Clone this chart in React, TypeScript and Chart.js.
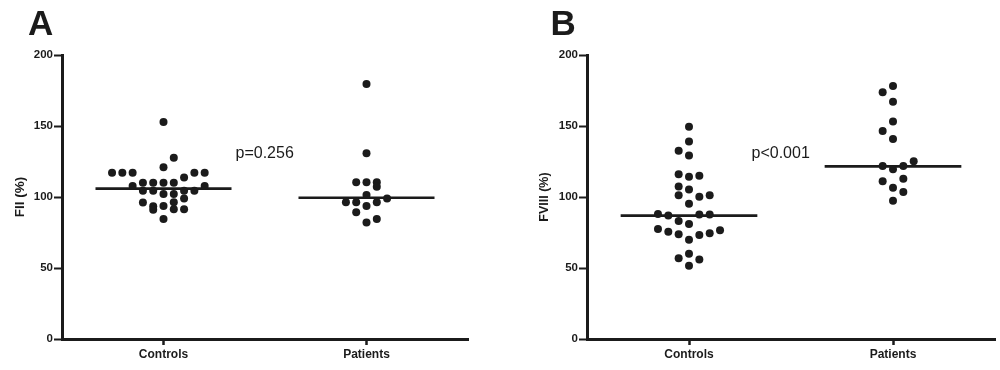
import React, { useEffect, useRef } from "react";
import { Chart, registerables } from "chart.js";

Chart.register(...registerables);

// ---------- data ----------
const categories = ["Controls", "Patients"];
const yTicks = [0, 50, 100, 150, 200];

// Panel A: FII (%)
const fiiControls = [
  152.8, 127.7, 120.9, 117, 117, 117, 117, 117, 113.8, 110.1, 110.1, 110.1, 110.1,
  107.7, 107.7, 104.4, 104.4, 104.4, 104.4, 102.1, 102.1, 99, 96.2, 96.3, 93.5, 91,
  93.7, 91.3, 91.3, 84.5,
];
const fiiControlsSlot = [
  0, 1, 0, -5, -4, -3, 3, 4, 2, -2, -1, 0, 1,
  -3, 4, -2, -1, 2, 3, 0, 1, 2, -2, 1, -1, -1,
  0, 1, 2, 0,
];
const fiiPatients = [179.6, 130.8, 110.3, 110.3, 110.3, 107.3, 101.4, 99, 96.3, 96.3, 96.3, 93.7, 89.2, 84.5, 82];
const fiiPatientsSlot = [0, 0, -1, 0, 1, 1, 0, 2, -2, -1, 1, 0, -1, 1, 0];
const fiiMedians = [105.9, 99.5];

// Panel B: FVIII (%)
const fviiiControls = [
  149.5, 139, 132.6, 129.3, 116, 114.3, 115, 107.4, 105.2, 101.2, 100.2, 101.2, 95.3,
  88, 86.9, 87.6, 87.6, 83.1, 81, 77.5, 75.6, 73.7, 69.9, 73.2, 74.4, 76.5, 56.8,
  60.1, 55.9, 51.6,
];
const fviiiControlsSlot = [
  0, 0, -1, 0, -1, 0, 1, -1, 0, -1, 1, 2, 0,
  -3, -2, 1, 2, -1, 0, -3, -2, -1, 0, 1, 2, 3, -1,
  0, 1, 0,
];
const fviiiPatients = [178.2, 173.7, 167.1, 153.2, 146.5, 140.8, 121.8, 119.5, 121.8, 125.1, 112.9, 111.1, 106.6, 103.5, 97.4];
const fviiiPatientsSlot = [0, -1, 0, 0, -1, 0, -1, 0, 1, 2, 1, -1, 0, 1, 0];
const fviiiMedians = [86.9, 121.6];

const pValues = ["p=0.256", "p<0.001"];
const yTitles = ["FII (%)", "FVIII (%)"];
const panelLetters = ["A", "B"];

// ---------- styling ----------
const FONT = '"Liberation Sans", Arial, Helvetica, sans-serif';
const INK = "#1b1b1b";
const SLOT = 0.0507;
const HALF_LINE = 0.335;

type PanelCfg = {
  left: number;
  yWidth: number;
  padRight: number;
  titlePad: number;
  titleSize: number;
  title: string;
  controls: number[];
  controlsSlot: number[];
  patients: number[];
  patientsSlot: number[];
  medians: number[];
};

function toPoints(vals: number[], slots: number[], cat: number) {
  return vals.map((v, i) => ({ x: cat + slots[i] * SLOT, y: v }));
}

function Panel({ cfg }: { cfg: PanelCfg }) {
  const ref = useRef<HTMLCanvasElement | null>(null);
  useEffect(() => {
    if (!ref.current) return;
    const dot = {
      showLine: false,
      pointRadius: 4,
      pointHoverRadius: 4,
      pointBackgroundColor: INK,
      pointBorderWidth: 0,
      borderColor: INK,
    };
    const medLine = (cat: number, m: number) => ({
      data: [
        { x: cat - HALF_LINE, y: m },
        { x: cat + HALF_LINE, y: m },
      ],
      showLine: true,
      pointRadius: 0,
      borderColor: INK,
      borderWidth: 2.6,
      fill: false,
    });
    const chart = new Chart(ref.current, {
      type: "scatter",
      data: {
        datasets: [
          { ...dot, data: toPoints(cfg.controls, cfg.controlsSlot, 1) },
          { ...dot, data: toPoints(cfg.patients, cfg.patientsSlot, 2) },
          medLine(1, cfg.medians[0]),
          medLine(2, cfg.medians[1]),
        ] as any,
      },
      options: {
        responsive: false,
        animation: false,
        devicePixelRatio: 1,
        layout: { padding: { left: 0, right: cfg.padRight, top: 55, bottom: 0 } },
        plugins: { legend: { display: false }, tooltip: { enabled: false } },
        scales: {
          x: {
            type: "linear",
            min: 0.5,
            max: 2.5,
            afterBuildTicks: (s: any) => {
              s.ticks = categories.map((_, i) => ({ value: i + 1 }));
            },
            afterFit: (s: any) => {
              s.height = 31;
            },
            ticks: {
              autoSkip: false,
              maxRotation: 0,
              padding: 2,
              color: INK,
              font: { family: FONT, size: 12, weight: "bold" },
              callback: (v: any) => categories[Math.round(Number(v)) - 1] ?? "",
            },
            grid: {
              drawOnChartArea: false,
              drawTicks: true,
              tickLength: 6,
              tickWidth: 2.5,
              tickColor: INK,
            },
            border: { display: true, width: 3, color: INK },
          },
          y: {
            type: "linear",
            min: 0,
            max: 200,
            afterBuildTicks: (s: any) => {
              s.ticks = yTicks.map((v) => ({ value: v }));
            },
            afterFit: (s: any) => {
              s.width = cfg.yWidth;
            },
            ticks: {
              padding: 1,
              color: INK,
              font: { family: FONT, size: 11.5, weight: "bold" },
            },
            grid: {
              drawOnChartArea: false,
              drawTicks: true,
              tickLength: 8,
              tickWidth: 2,
              tickColor: INK,
            },
            border: { display: true, width: 3, color: INK },
            title: {
              display: true,
              text: cfg.title,
              color: INK,
              font: { family: FONT, size: cfg.titleSize, weight: "bold" },
              padding: { top: cfg.titlePad, bottom: 0 },
            },
          },
        },
      } as any,
    });
    return () => chart.destroy();
  }, [cfg]);
  return (
    <canvas
      ref={ref}
      width={500}
      height={370}
      style={{ position: "absolute", left: cfg.left, top: 0, width: 500, height: 370 }}
    />
  );
}

const panelA: PanelCfg = {
  left: 0,
  yWidth: 62,
  padRight: 32,
  titlePad: 12,
  titleSize: 13.5,
  title: yTitles[0],
  controls: fiiControls,
  controlsSlot: fiiControlsSlot,
  patients: fiiPatients,
  patientsSlot: fiiPatientsSlot,
  medians: fiiMedians,
};
const panelB: PanelCfg = {
  left: 500,
  yWidth: 87,
  padRight: 5,
  titlePad: 37.5,
  titleSize: 12.5,
  title: yTitles[1],
  controls: fviiiControls,
  controlsSlot: fviiiControlsSlot,
  patients: fviiiPatients,
  patientsSlot: fviiiPatientsSlot,
  medians: fviiiMedians,
};

export default function App() {
  const letterStyle: React.CSSProperties = {
    position: "absolute",
    top: 3,
    fontFamily: FONT,
    fontWeight: "bold",
    fontSize: 35,
    lineHeight: "40px",
    color: INK,
    margin: 0,
  };
  const pStyle: React.CSSProperties = {
    position: "absolute",
    top: 143.5,
    fontFamily: FONT,
    fontSize: 16,
    lineHeight: "18px",
    color: INK,
    whiteSpace: "nowrap",
  };
  return (
    <div
      style={{
        position: "absolute",
        left: 0,
        top: 0,
        width: 1000,
        height: 370,
        background: "#fff",
        overflow: "hidden",
      }}
    >
      <Panel cfg={panelA} />
      <Panel cfg={panelB} />
      <div style={{ ...letterStyle, left: 28 }}>{panelLetters[0]}</div>
      <div style={{ ...letterStyle, left: 550.5 }}>{panelLetters[1]}</div>
      <div style={{ ...pStyle, left: 235.5 }}>{pValues[0]}</div>
      <div style={{ ...pStyle, left: 751.5 }}>{pValues[1]}</div>
    </div>
  );
}
